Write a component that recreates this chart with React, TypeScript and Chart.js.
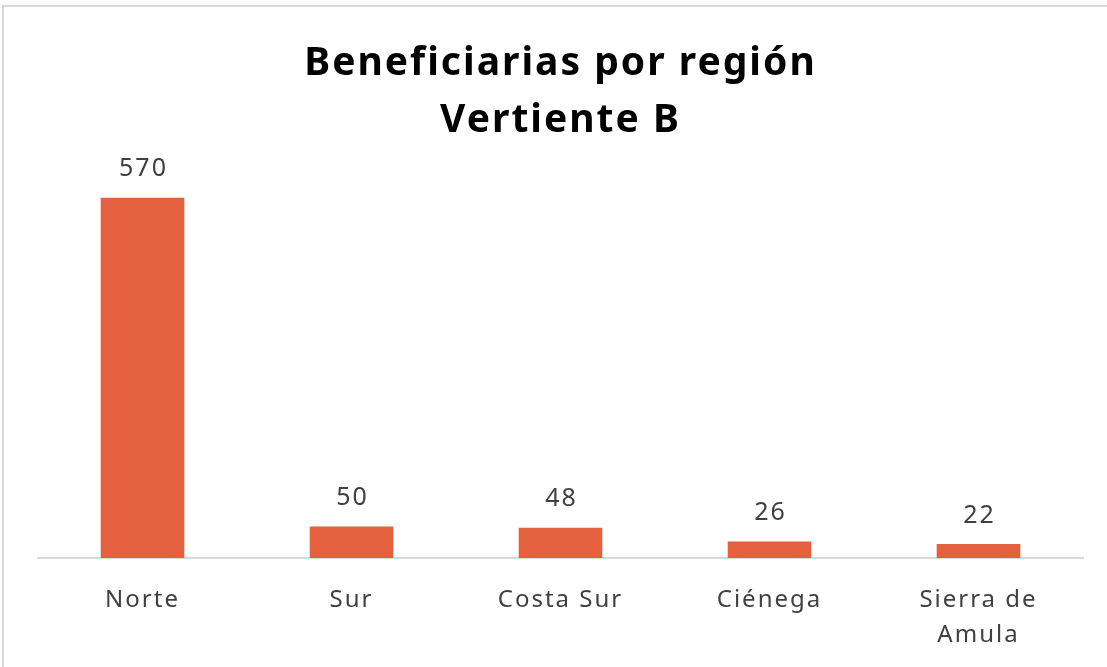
import React, { useEffect, useRef } from "react";
import { Chart, registerables } from "chart.js";

Chart.register(...registerables);

const categories: (string | string[])[] = ["Norte", "Sur", "Costa Sur", "Ciénega", ["Sierra de", "Amula"]];
const values: number[] = [570, 50, 48, 26, 22];
const titleLines: string[] = ["Beneficiarias por región", "Vertiente B"];

const BAR_COLOR = "#E5603E";
const TEXT_COLOR = "#404040";
const SPACING = "2px";

const spacingPlugin = {
  id: "spacing",
  beforeUpdate(chart: any) {
    chart.ctx.letterSpacing = SPACING;
  },
  beforeDraw(chart: any) {
    chart.ctx.letterSpacing = SPACING;
  },
};

const valueLabels = {
  id: "valueLabels",
  afterDatasetsDraw(chart: any) {
    const ctx = chart.ctx;
    const meta = chart.getDatasetMeta(0);
    ctx.save();
    ctx.letterSpacing = SPACING;
    ctx.font = "25px 'Noto Sans'";
    ctx.fillStyle = TEXT_COLOR;
    ctx.textAlign = "center";
    ctx.textBaseline = "bottom";
    meta.data.forEach((bar: any, i: number) => {
      ctx.fillText(String(values[i]), bar.x + 1, bar.y - 16);
    });
    ctx.restore();
  },
};

export default function App() {
  const ref = useRef<HTMLCanvasElement>(null);
  useEffect(() => {
    if (!ref.current) return;
    const chart = new Chart(ref.current, {
      type: "bar",
      data: {
        labels: categories,
        datasets: [
          {
            data: values,
            backgroundColor: BAR_COLOR,
            categoryPercentage: 1,
            barPercentage: 0.4,
          },
        ],
      },
      options: {
        animation: false,
        responsive: true,
        maintainAspectRatio: false,
        layout: { padding: { left: 38, right: 24, top: 0, bottom: 0 } },
        plugins: {
          legend: { display: false },
          tooltip: { enabled: false },
          title: {
            display: true,
            text: titleLines,
            color: "#000000",
            font: { family: "'Noto Sans'", size: 39, weight: "bold", lineHeight: 1.47 },
            padding: { top: 35, bottom: 0 },
          },
        },
        scales: {
          x: {
            grid: { display: false, drawTicks: false },
            border: { display: true, color: "#D9D9D9", width: 2 },
            ticks: {
              color: TEXT_COLOR,
              font: { family: "'Noto Sans'", size: 24, lineHeight: 1.45 },
              padding: 25,
              maxRotation: 0,
              autoSkip: false,
            },
            afterFit(scale: any) {
              scale.height = 109;
            },
          },
          y: {
            display: false,
            min: 0,
            max: 646,
          },
        },
      },
      plugins: [spacingPlugin, valueLabels],
    });
    return () => chart.destroy();
  }, []);
  return (
    <div style={{ position: "fixed", left: 0, top: 0, width: 1107, height: 667, background: "#fff" }}>
      <div
        style={{
          position: "absolute",
          left: 2,
          top: 5,
          right: 0,
          bottom: 0,
          borderTop: "2px solid #D9D9D9",
          borderLeft: "2px solid #D9D9D9",
        }}
      />
      <canvas ref={ref} style={{ position: "absolute", left: 0, top: 0 }} />
    </div>
  );
}
